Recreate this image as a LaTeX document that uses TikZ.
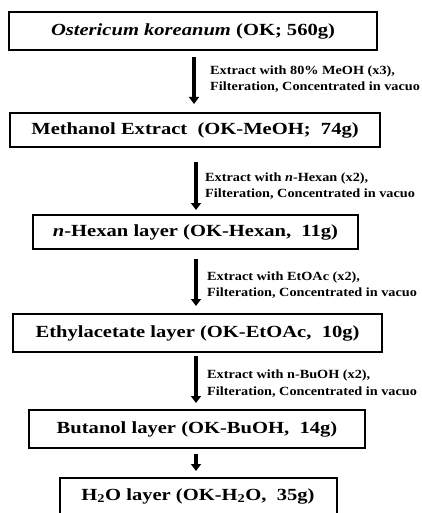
\documentclass[tikz,border=0pt]{standalone}
\usepackage{fontspec}
\setmainfont{Liberation Serif}
\newfontfamily\stagefont[FakeStretch=1.21]{Liberation Serif}
\newfontfamily\condfont[FakeStretch=1.14]{Liberation Serif}
\usetikzlibrary{arrows.meta}
\tikzset{
  stage/.style={draw=black, line width=2.6pt, fill=white, inner sep=0pt},
  stagetext/.style={font=\stagefont\bfseries\fontsize{17}{20}\selectfont},
  steparrow/.style={line width=3.6pt, -{Triangle[width=10pt,length=7pt]}},
  cond/.style={anchor=base west, font=\condfont\bfseries\fontsize{12.5}{16.5}\selectfont, align=left, inner sep=0pt},
}
\begin{document}
\begin{tikzpicture}[x=1pt, y=-1pt]
\useasboundingbox (0,0) rectangle (422,513);
% stage boxes
\draw[stage] (9,12) rectangle (377,50);
\node[stagetext] (ok) at (193,31) {\textit{Ostericum koreanum} (OK; 560g)};
\draw[stage] (10,113) rectangle (380,147);
\node[stagetext] (meoh) at (195,130) {Methanol Extract\ \ (OK-MeOH;\ \ 74g)};
\draw[stage] (33,215) rectangle (358,249);
\node[stagetext] (hex) at (195.5,232) {\textit{n}-Hexan layer (OK-Hexan,\ \ 11g)};
\draw[stage] (13,314) rectangle (382,352);
\node[stagetext] (etoac) at (197.5,333) {Ethylacetate layer (OK-EtOAc,\ \ 10g)};
\draw[stage] (29,410) rectangle (365,448);
\node[stagetext] (buoh) at (197,429) {Butanol layer (OK-BuOH,\ \ 14g)};
\draw[stage] (60,478) rectangle (337,530);
\node[stagetext] (water) at (198,496) {H\textsubscript{2}O layer (OK-H\textsubscript{2}O,\ \ 35g)};
% arrows between stages
\coordinate (a1s) at (194,57);   \coordinate (a1e) at (194,104);
\coordinate (a2s) at (196,162);  \coordinate (a2e) at (196,210);
\coordinate (a3s) at (196,259);  \coordinate (a3e) at (196,306);
\coordinate (a4s) at (196,356);  \coordinate (a4e) at (196,403);
\coordinate (a5s) at (196,454);  \coordinate (a5e) at (196,471);
\draw[steparrow] (a1s) -- (a1e);
\draw[steparrow] (a2s) -- (a2e);
\draw[steparrow] (a3s) -- (a3e);
\draw[steparrow] (a4s) -- (a4e);
\draw[steparrow] (a5s) -- (a5e);
% conditions (anchored at the baseline of the second line)
\node[cond] (c1) at (210,90.7) {Extract with 80\% MeOH (x3),\\Filteration, Concentrated in vacuo};
\node[cond] (c2) at (205,197.7) {Extract with \textit{n}-Hexan (x2),\\Filteration, Concentrated in vacuo};
\node[cond] (c3) at (207,296.7) {Extract with EtOAc (x2),\\Filteration, Concentrated in vacuo};
\node[cond] (c4) at (207,395) {Extract with n-BuOH (x2),\\Filteration, Concentrated in vacuo};
\end{tikzpicture}
\end{document}
